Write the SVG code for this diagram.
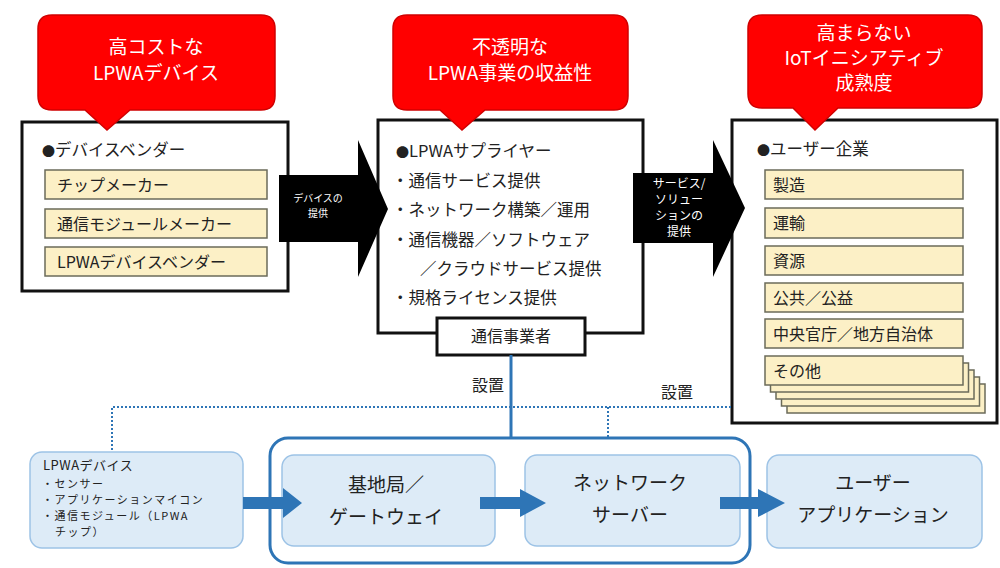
<svg xmlns="http://www.w3.org/2000/svg" width="1000" height="568" viewBox="0 0 1000 568">
<style>
text{font-family:"Noto Sans CJK JP","Noto Sans",sans-serif;fill:#222}
.box{fill:#fff;stroke:#111;stroke-width:3}
.yel{fill:#FCF0C6;stroke:#6b6b5a;stroke-width:1.5}
.red{fill:#FF0000;stroke:#D00000;stroke-width:1.5}
.rt{fill:#fff;font-size:19px;text-anchor:middle}
.t16{font-size:16px}
.t17{font-size:16.5px}
.bul{font-size:13px}
.blk{fill:#000}
.at{fill:#fff;font-size:10px;text-anchor:middle}
.at2{fill:#fff;font-size:12px;text-anchor:middle}
.lb{fill:#DDEBF7;stroke:#9DC3E6;stroke-width:1.5}
.bt{font-size:19px;text-anchor:middle}
.lt{font-size:11px;letter-spacing:1.5px}
.dot{fill:none;stroke:#2E75B6;stroke-width:2;stroke-dasharray:2 2}
.sol{fill:none;stroke:#2E75B6;stroke-width:3}
.ba{fill:#2E75B6}
.st{font-size:16px;text-anchor:middle}
</style>

<g id="left-box">
<rect class="box" x="22" y="122" width="266" height="169"/>
<text class="t17" x="42" y="156"><tspan class="bul">●</tspan>デバイスベンダー</text>
<rect class="yel" x="45" y="170" width="222" height="29"/>
<text class="t16" x="57" y="191">チップメーカー</text>
<rect class="yel" x="45" y="209" width="222" height="29"/>
<text class="t16" x="57" y="230">通信モジュールメーカー</text>
<rect class="yel" x="45" y="247" width="222" height="29"/>
<text class="t16" x="57" y="268">LPWAデバイスベンダー</text>
</g>

<g id="middle-box">
<rect class="box" x="378" y="120" width="265" height="213"/>
<text class="t17" x="396" y="157"><tspan class="bul">●</tspan>LPWAサプライヤー</text>
<text class="t17" x="392" y="187">・通信サービス提供</text>
<text class="t17" x="392" y="216">・ネットワーク構築／運用</text>
<text class="t17" x="392" y="246">・通信機器／ソフトウェア</text>
<text class="t17" x="420" y="275">／クラウドサービス提供</text>
<text class="t17" x="392" y="304">・規格ライセンス提供</text>
</g>
<g id="carrier">
<rect class="box" x="437" y="318" width="148" height="37"/>
<text class="t16" x="511" y="342" text-anchor="middle">通信事業者</text>
</g>

<g id="right-box">
<rect class="box" x="732" y="120" width="265" height="303"/>
<text class="t17" x="757" y="155"><tspan class="bul">●</tspan>ユーザー企業</text>
<rect class="yel" x="787" y="384" width="198" height="29"/>
<rect class="yel" x="781.5" y="377" width="198" height="29"/>
<rect class="yel" x="776" y="370" width="198" height="29"/>
<rect class="yel" x="770.5" y="363" width="198" height="29"/>
<rect class="yel" x="765" y="170" width="198" height="29"/>
<text class="t16" x="773" y="191">製造</text>
<rect class="yel" x="765" y="208" width="198" height="30"/>
<text class="t16" x="773" y="229">運輸</text>
<rect class="yel" x="765" y="246" width="198" height="29"/>
<text class="t16" x="773" y="267">資源</text>
<rect class="yel" x="765" y="283" width="198" height="29"/>
<text class="t16" x="773" y="304">公共／公益</text>
<rect class="yel" x="765" y="319" width="198" height="29"/>
<text class="t16" x="773" y="340">中央官庁／地方自治体</text>
<rect class="yel" x="765" y="356" width="198" height="29"/>
<text class="t16" x="773" y="377">その他</text>
</g>

<g id="callout-left">
<path class="red" d="M52 15H261Q275 15 275 29V96Q275 110 261 110H130L107 130L85 110H52Q38 110 38 96V29Q38 15 52 15Z"/>
<text class="rt" x="156" y="54">高コストな</text>
<text class="rt" x="156" y="80">LPWAデバイス</text>
</g>
<g id="callout-middle">
<path class="red" d="M407 15H614Q628 15 628 29V96Q628 110 614 110H485L462 130L440 110H407Q393 110 393 96V29Q393 15 407 15Z"/>
<text class="rt" x="510" y="54">不透明な</text>
<text class="rt" x="510" y="80">LPWA事業の収益性</text>
</g>
<g id="callout-right">
<path class="red" d="M762 15H968Q982 15 982 29V94Q982 108 968 108H838L815 130L793 108H762Q748 108 748 94V29Q748 15 762 15Z"/>
<text class="rt" x="864" y="40">高まらない</text>
<text class="rt" x="864" y="65">IoTイニシアティブ</text>
<text class="rt" x="864" y="90">成熟度</text>
</g>

<g id="arrow-device">
<polygon class="blk" points="279,175 358,175 358,140 388,209 358,277 358,242 279,242"/>
<text class="at" x="318" y="202">デバイスの<tspan x="318" dy="15">提供</tspan></text>
</g>
<g id="arrow-service">
<polygon class="blk" points="633,173 713,173 713,140 745,208 713,277 713,243 633,243"/>
<text class="at2" x="679" y="188">サービス/<tspan x="679" dy="16">ソリュー</tspan><tspan x="679" dy="16">ションの</tspan><tspan x="679" dy="16">提供</tspan></text>
</g>

<text class="st" x="488" y="391">設置</text>
<text class="st" x="677" y="398">設置</text>

<g id="lpwa-network">
<rect class="sol" x="270" y="438" width="480" height="125" rx="18"/>
</g>

<g id="lpwa-device">
<rect class="lb" x="30" y="452" width="213" height="96" rx="12"/>
<text x="43" y="470" style="font-size:13px;letter-spacing:0.5px">LPWAデバイス</text>
<text class="lt" x="42" y="488">・センサー</text>
<text class="lt" x="42" y="504">・アプリケーションマイコン</text>
<text class="lt" x="42" y="520">・通信モジュール（LPWA</text>
<text class="lt" x="55" y="536">チップ）</text>
</g>
<g id="gateway">
<rect class="lb" x="282" y="455" width="213" height="91" rx="12"/>
<text class="bt" x="386" y="492">基地局／</text>
<text class="bt" x="386" y="524">ゲートウェイ</text>
</g>
<g id="network-server">
<rect class="lb" x="525" y="455" width="215" height="91" rx="12"/>
<text class="bt" x="630" y="490">ネットワーク</text>
<text class="bt" x="630" y="522">サーバー</text>
</g>
<g id="user-app">
<rect class="lb" x="767" y="455" width="215" height="93" rx="12"/>
<text class="bt" x="873" y="490">ユーザー</text>
<text class="bt" x="873" y="522">アプリケーション</text>
</g>

<g id="connectors">
<line class="sol" x1="511" y1="355" x2="511" y2="438"/>
<polyline class="dot" points="112,450 112,407 732,407"/>
<line class="dot" x1="608" y1="407" x2="608" y2="438"/>
<polygon class="ba" points="243,497 283,497 283,488 302,503 283,518 283,509 243,509"/>
<polygon class="ba" points="480,497 520,497 520,489 546,503 520,517 520,509 480,509"/>
<polygon class="ba" points="720,497 758,497 758,489 785,503 758,517 758,509 720,509"/>
</g>
</svg>
